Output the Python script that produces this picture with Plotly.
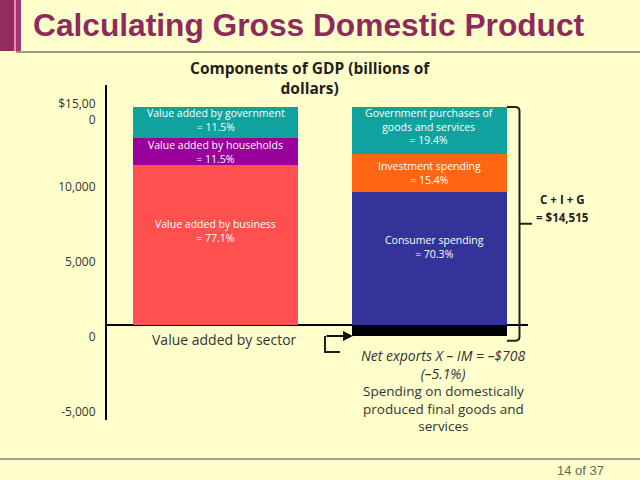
import plotly.graph_objects as go

# ---------------- data ----------------
categories = ["Value added by sector", "Spending on domestically produced final goods and services"]

sector_names = ["Value added by business", "Value added by households", "Value added by government"]
sector_values = [10650, 1780, 2085]          # billions of dollars
sector_shares = ["77.1%", "11.5%", "11.5%"]

spending_names = ["Consumer spending", "Investment spending", "Government purchases of<br>goods and services"]
spending_values = [8870, 2490, 3155]         # billions of dollars
spending_shares = ["70.3%", "15.4%", "19.4%"]

net_exports = -708
net_exports_share = "–5.1%"
cig_total = 14515

y_tick_values = [-5000, 0, 5000, 10000, 15000]
y_tick_labels = ["-5,000", "0", "5,000", "10,000", "$15,00<br>0"]

# ---------------- style ----------------
sector_colors = ["#FF5050", "#99009B", "#10A39E"]
spending_colors = ["#333399", "#FF6611", "#10A39E"]
BG = "#FFFFCC"
TXT = "#333333"
FONT = "Open Sans"

W, H = 640, 480
L, R, T, B = 107, 112, 85, 60
PW, PH = W - L - R, H - T - B
Y_MIN, Y_MAX = -6325, 15980


def xp(px):
    return (px - L) / PW


def yp(py):
    return (H - B - py) / PH


def py_of(v):
    return T + (Y_MAX - v) / (Y_MAX - Y_MIN) * PH


fig = go.Figure()
widths = [0.771, 0.724]
for i in range(3):
    fig.add_trace(go.Bar(
        x=categories, y=[sector_values[i], spending_values[i]], width=widths,
        marker=dict(color=[sector_colors[i], spending_colors[i]], line=dict(width=0)),
        showlegend=False, hoverinfo="skip"))
fig.add_trace(go.Bar(
    x=[categories[1]], y=[net_exports], width=[widths[1]],
    marker=dict(color="#000000", line=dict(width=0)), showlegend=False, hoverinfo="skip"))


def add_text(text, x, y, xref, yref, font, yshift=0, xshift=0):
    fig.add_annotation(x=x, y=y, xref=xref, yref=yref, text=text, showarrow=False,
                       font=font, xanchor="center", yanchor="middle", borderpad=0,
                       yshift=yshift, xshift=xshift)


label_font = dict(family=FONT, size=10.5, color="white")
# labels in bars
left_shifts = [14, 0, 3]
right_shifts = [11, 0, 4]
right_xshifts = [5, 0, 0]
base = 0
for name, val, share, sh in zip(sector_names, sector_values, sector_shares, left_shifts):
    add_text(name + "<br>= " + share, categories[0], base + val / 2, "x", "y", label_font, yshift=sh)
    base += val
base = 0
for name, val, share, sh, xs in zip(spending_names, spending_values, spending_shares, right_shifts, right_xshifts):
    add_text(name + "<br>= " + share, categories[1], base + val / 2, "x", "y", label_font,
             yshift=sh, xshift=xs)
    base += val

# chart title
title_font = dict(family=FONT, size=15.5, color="#222222", weight="bold")
add_text("Components of GDP (billions of<br>dollars)", xp(310), yp(78), "paper", "paper", title_font)

# category captions
add_text(categories[0], xp(224), yp(339), "paper", "paper", dict(family=FONT, size=14, color=TXT))
add_text("Spending on domestically<br>produced final goods and<br>services", xp(443), yp(408),
         "paper", "paper", dict(family=FONT, size=13.5, color=TXT))

nx_txt = "–$" + f"{abs(net_exports):,}"
add_text("Net exports X – IM = " + nx_txt + "<br>(" + net_exports_share + ")", xp(443), yp(364.5),
         "paper", "paper", dict(family=FONT, size=14, color=TXT, style="italic"))

# C + I + G
cig_font = dict(family=FONT, size=11.5, color="#222222", weight="bold")
add_text("C + I + G", xp(562), yp(199), "paper", "paper", cig_font)
add_text("= $" + f"{cig_total:,}", xp(562), yp(217), "paper", "paper", cig_font)

# brace around C + I + G + NX
ty = py_of(cig_total)
by = py_of(net_exports) + 5
my = (ty + by) / 2


def P(px, py):
    return f"{xp(px):.5f},{yp(py):.5f}"


brace = (f"M {P(507, ty)} L {P(515, ty)} Q {P(519.5, ty)} {P(519.5, ty + 4)} "
         f"L {P(519.5, by - 4)} Q {P(519.5, by)} {P(515, by)} L {P(507, by)} "
         f"M {P(519.5, my)} L {P(532, my)}")
fig.add_shape(type="path", path=brace, xref="paper", yref="paper",
              line=dict(color="#222222", width=2))

# small arrow pointing at the net-exports bar
fig.add_shape(type="path", path=f"M {P(340, 352)} L {P(325, 352)} L {P(325, 336)}",
              xref="paper", yref="paper", line=dict(color="#222222", width=2))
fig.add_annotation(x=xp(353), y=yp(336), xref="paper", yref="paper", text="", showarrow=True,
                   ax=-28, ay=0, arrowhead=2, arrowsize=1, arrowwidth=2, arrowcolor="#111111")

# slide header / footer decorations
fig.add_shape(type="rect", x0=xp(0), x1=xp(14), y0=yp(0), y1=yp(51), xref="paper", yref="paper",
              fillcolor="#922C60", line=dict(width=0), layer="below")
fig.add_shape(type="rect", x0=xp(14), x1=xp(16), y0=yp(0), y1=yp(51), xref="paper", yref="paper",
              fillcolor="#E58CB8", line=dict(width=0), layer="below")
fig.add_shape(type="rect", x0=xp(16), x1=xp(21), y0=yp(0), y1=yp(51), xref="paper", yref="paper",
              fillcolor="#A33670", line=dict(width=0), layer="below")
fig.add_shape(type="line", x0=xp(16), x1=xp(640), y0=yp(52), y1=yp(52), xref="paper", yref="paper",
              line=dict(color="#9A9A80", width=2))
fig.add_shape(type="line", x0=xp(0), x1=xp(640), y0=yp(459), y1=yp(459), xref="paper", yref="paper",
              line=dict(color="#A0A090", width=2))
fig.add_annotation(x=xp(31), y=yp(25), xref="paper", yref="paper",
                   text="Calculating Gross Domestic Product", showarrow=False,
                   font=dict(family="Liberation Sans", size=31.7, color="#8E2A5C", weight="bold"),
                   xanchor="left", yanchor="middle")
fig.add_annotation(x=xp(606), y=yp(470), xref="paper", yref="paper", text="14 of 37", showarrow=False,
                   font=dict(family="Liberation Sans", size=13, color="#666666"),
                   xanchor="right", yanchor="middle")

fig.update_layout(
    width=W, height=H, barmode="relative", bargap=0,
    paper_bgcolor=BG, plot_bgcolor=BG,
    margin=dict(l=L, r=R, t=T, b=B, autoexpand=False),
    showlegend=False,
    xaxis=dict(type="category", range=[-0.507, 1.46], visible=False, fixedrange=True),
    yaxis=dict(range=[Y_MIN, Y_MAX], tickvals=y_tick_values, ticktext=y_tick_labels,
               showgrid=False, zeroline=True, zerolinecolor="#000000", zerolinewidth=2,
               showline=True, linecolor="#000000", linewidth=2, ticks="",
               ticklabelshift=12, ticklabelstandoff=7,
               tickfont=dict(family=FONT, size=12, color=TXT), fixedrange=True),
)

fig.write_html("out.html", config={"displayModeBar": False},
               post_script="document.body.style.margin='0';document.body.style.padding='0';"
                           "document.body.style.background='" + BG + "';")
